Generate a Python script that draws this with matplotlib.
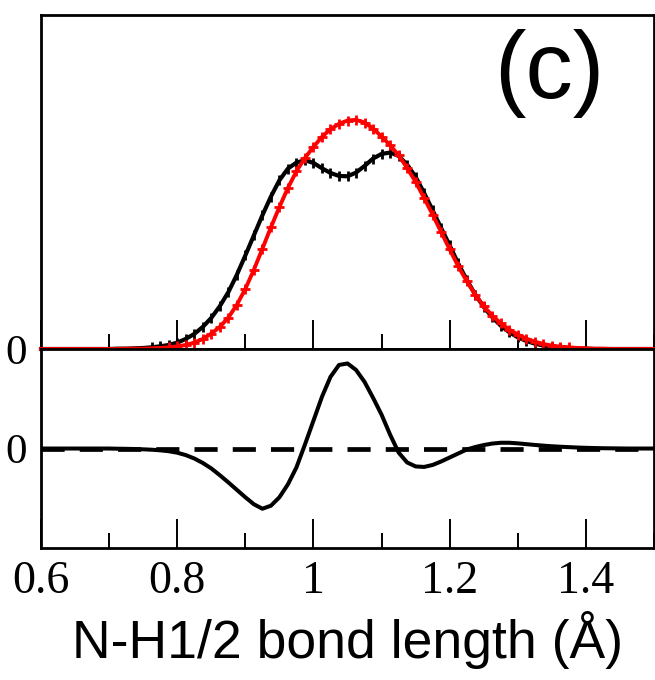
import numpy as np
import matplotlib
matplotlib.use("Agg")
import matplotlib.pyplot as plt
from matplotlib.ticker import MultipleLocator

# bond length grid (Angstrom)
bond = np.linspace(0.6, 1.5, 73)

# top panel: two distributions (black = double peak, red = single peak)
black_dist = [0, 0, 0, 0, 0, 0, 0, 0,
              0.000, 0.001, 0.001, 0.002, 0.003, 0.005, 0.008, 0.012, 0.019, 0.030,
              0.045, 0.066, 0.093, 0.128, 0.170, 0.222, 0.280, 0.340, 0.400, 0.456,
              0.505, 0.540, 0.558, 0.565, 0.557, 0.541, 0.527, 0.518, 0.517, 0.528,
              0.548, 0.570, 0.584, 0.588, 0.578, 0.552, 0.515, 0.467, 0.415, 0.362,
              0.310, 0.256, 0.207, 0.163, 0.126, 0.095, 0.070, 0.050, 0.035, 0.024,
              0.016, 0.010, 0.007, 0.004, 0.003, 0.002, 0.001,
              0, 0, 0, 0, 0, 0, 0, 0]
red_dist = [0, 0, 0, 0, 0, 0, 0, 0,
            0.000, 0.000, 0.001, 0.001, 0.001, 0.002, 0.003, 0.005, 0.008, 0.012,
            0.019, 0.030, 0.046, 0.066, 0.094, 0.132, 0.180, 0.237, 0.300, 0.364,
            0.425, 0.482, 0.532, 0.572, 0.605, 0.635, 0.658, 0.674, 0.684, 0.686,
            0.678, 0.660, 0.636, 0.610, 0.580, 0.542, 0.500, 0.452, 0.402, 0.350,
            0.298, 0.248, 0.203, 0.163, 0.128, 0.100, 0.077, 0.058, 0.043, 0.031,
            0.022, 0.015, 0.010, 0.007, 0.005, 0.003, 0.002,
            0.001, 0.001, 0, 0, 0, 0, 0, 0]

# bottom panel: difference curve
diff = [0, 0, 0, 0, 0, 0, 0, 0, 0,
        -0.002, -0.003, -0.005, -0.008, -0.012, -0.018, -0.027,
        -0.042, -0.066, -0.10, -0.145, -0.20, -0.268, -0.34, -0.415, -0.49, -0.56,
        -0.605, -0.575, -0.49, -0.36, -0.19, 0.04, 0.28, 0.52, 0.72, 0.84,
        0.855, 0.79, 0.67, 0.51, 0.34, 0.14, -0.04, -0.14, -0.18, -0.185,
        -0.165, -0.13, -0.09,
        -0.05, -0.01, 0.015, 0.035, 0.05, 0.058, 0.058, 0.052, 0.044, 0.036,
        0.029, 0.023, 0.018, 0.014, 0.010, 0.007, 0.005, 0.003, 0.002, 0.001,
        0, 0, 0, 0]

xtick_vals = [0.6, 0.8, 1.0, 1.2, 1.4]
xtick_labels = ["0.6", "0.8", "1", "1.2", "1.4"]
xlabel = "N-H1/2 bond length (Å)"
panel_tag = "(c)"

serif = ["Liberation Serif", "DejaVu Serif"]
sans = ["Liberation Sans", "DejaVu Sans"]

fig = plt.figure(figsize=(6.55, 6.8), dpi=100)
ax1 = fig.add_axes([0.0626, 0.4868, 0.9359, 0.4912])
ax2 = fig.add_axes([0.0626, 0.1941, 0.9359, 0.2926])

for ax in (ax1, ax2):
    for s in ax.spines.values():
        s.set_linewidth(2.0)
    ax.set_xlim(0.6, 1.5)
    ax.xaxis.set_major_locator(MultipleLocator(0.2))
    ax.xaxis.set_minor_locator(MultipleLocator(0.1))
    ax.tick_params(axis="x", which="major", direction="in", length=21, width=1.4,
                   top=False, bottom=True)
    ax.tick_params(axis="x", which="minor", direction="in", length=10.5, width=1.4,
                   top=False, bottom=True)
    ax.tick_params(axis="y", which="both", length=0, pad=10)

# top panel
mark_b = [i for i, v in enumerate(black_dist) if v > 0.003]
mark_r = [i for i, v in enumerate(red_dist) if v > 0.003]
ax1.plot(bond, black_dist, color="black", lw=3.0, marker="|", ms=6.5, mew=2.0,
         markevery=mark_b, clip_on=False, zorder=3)
ax1.plot(bond, red_dist, color="#ff0000", lw=2.8, marker="+", ms=6.5, mew=2.0,
         markevery=mark_r, clip_on=False, zorder=4)
ax1.set_ylim(0, 1)
ax1.set_yticks([0])
ax1.set_yticklabels(["0"], family=serif, fontsize=31)
ax1.tick_params(axis="x", labelbottom=False)
ax1.text(0.829, 0.825, panel_tag, transform=ax1.transAxes, ha="center", va="center",
         fontsize=68, family=sans)

# bottom panel
ax2.axhline(0, color="black", lw=3.4, ls=(0, (4.9, 3.2)), zorder=2)
ax2.plot(bond, diff, color="black", lw=2.9, zorder=3)
ax2.set_ylim(-1, 1)
ax2.set_yticks([0])
ax2.set_yticklabels(["0"], family=serif, fontsize=31)
ax2.set_xticks(xtick_vals)
ax2.set_xticklabels(xtick_labels, family=serif, fontsize=33)
ax2.tick_params(axis="x", which="major", pad=9)
ax2.set_xlabel(xlabel, family=sans, fontsize=38.5, labelpad=6)

fig.savefig("out.png", dpi=100)
